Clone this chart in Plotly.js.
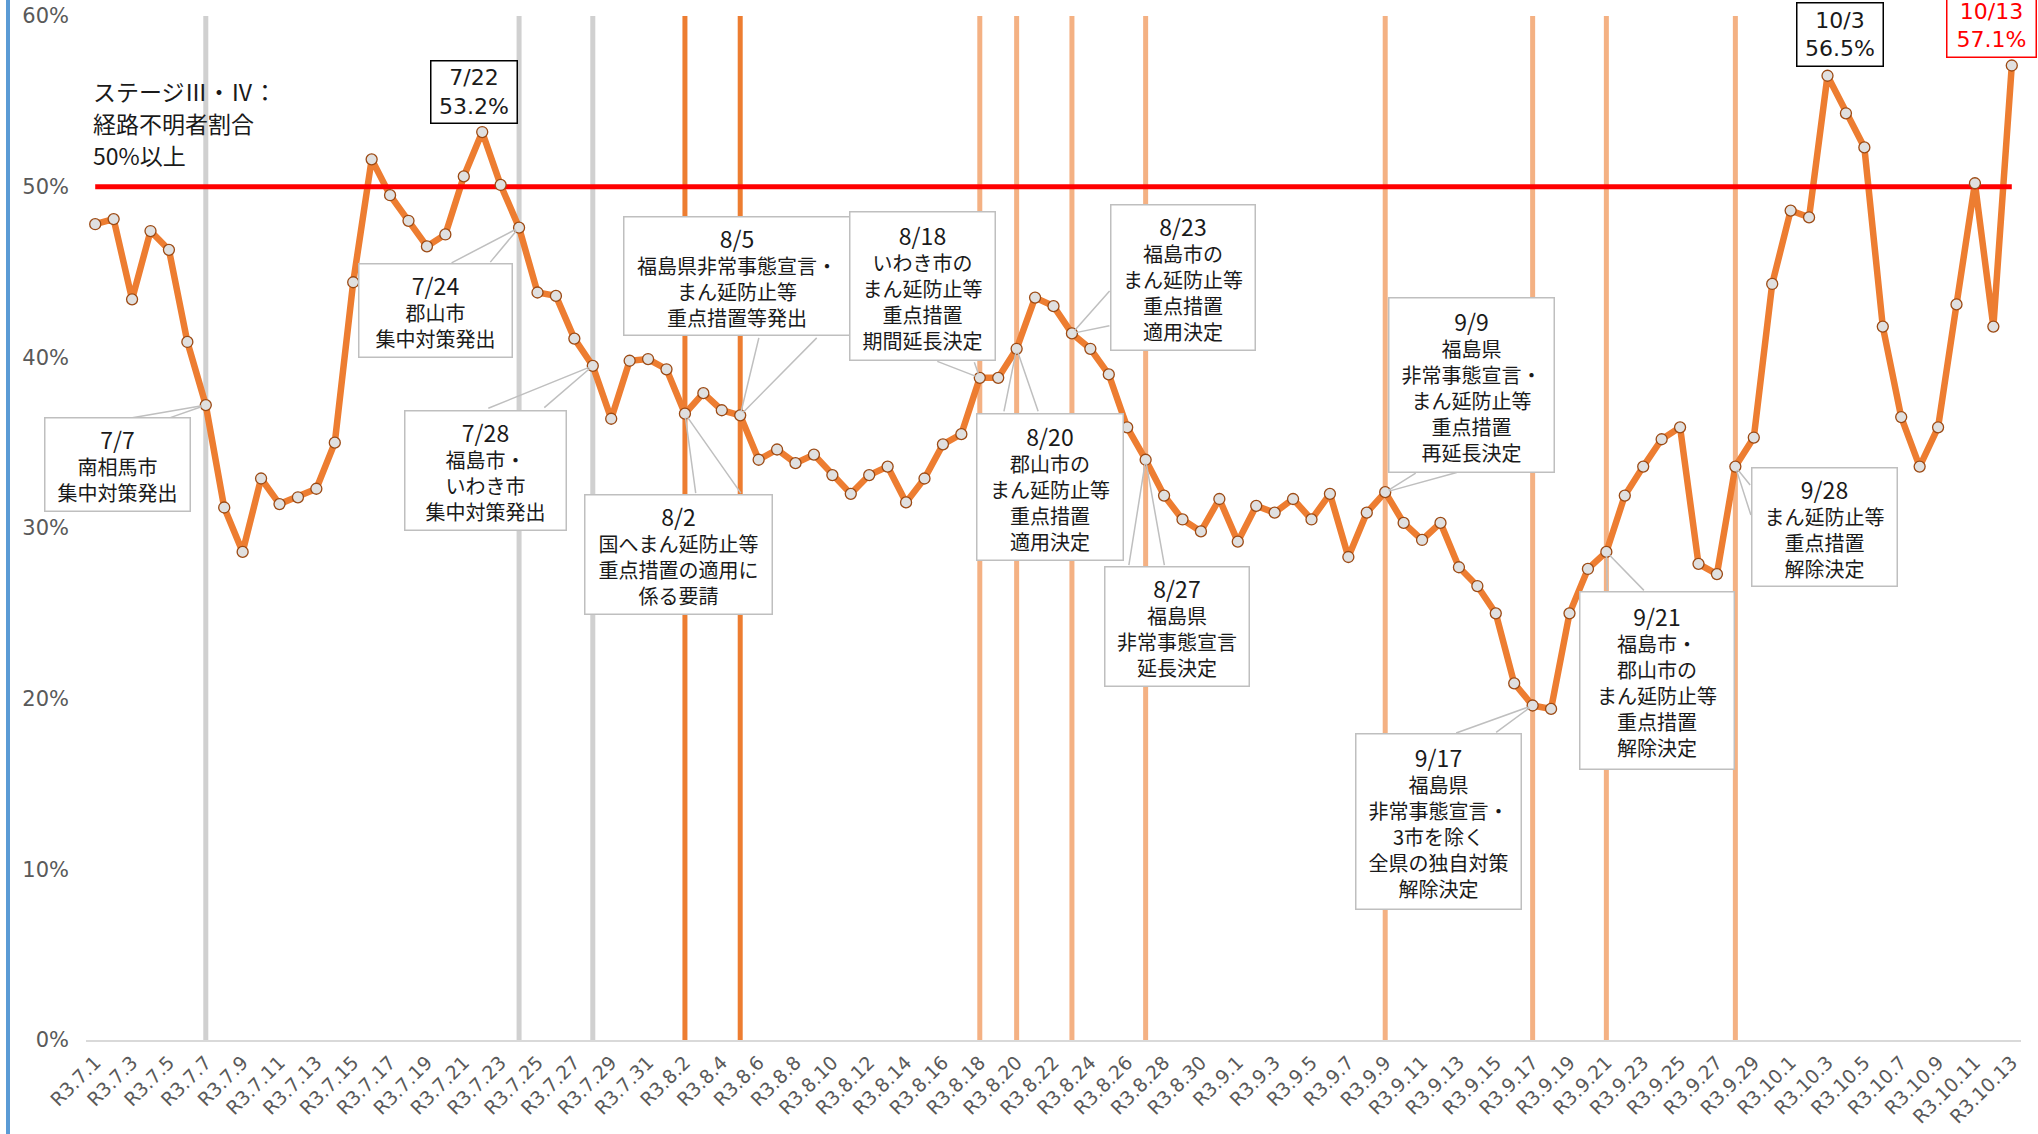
<!DOCTYPE html>
<html>
<head>
<meta charset="utf-8">
<script src="https://cdn.plot.ly/plotly-3.0.1.min.js"></script>
<style>
  html, body { margin: 0; padding: 0; background: #ffffff; }
  #wrap { position: relative; width: 2038px; height: 1134px; }
  #chart { width: 2038px; height: 1134px; }
  #leftbar { position: absolute; left: 6px; top: 0; width: 4px; height: 1134px; background: #5B9BD5; }
</style>
</head>
<body>
<div id="wrap"><div id="chart"></div><div id="leftbar"></div></div>
<script>
// ---------- data ----------
const categories = [
  'R3.7.1','R3.7.2','R3.7.3','R3.7.4','R3.7.5','R3.7.6','R3.7.7','R3.7.8','R3.7.9','R3.7.10',
  'R3.7.11','R3.7.12','R3.7.13','R3.7.14','R3.7.15','R3.7.16','R3.7.17','R3.7.18','R3.7.19','R3.7.20',
  'R3.7.21','R3.7.22','R3.7.23','R3.7.24','R3.7.25','R3.7.26','R3.7.27','R3.7.28','R3.7.29','R3.7.30','R3.7.31',
  'R3.8.1','R3.8.2','R3.8.3','R3.8.4','R3.8.5','R3.8.6','R3.8.7','R3.8.8','R3.8.9','R3.8.10',
  'R3.8.11','R3.8.12','R3.8.13','R3.8.14','R3.8.15','R3.8.16','R3.8.17','R3.8.18','R3.8.19','R3.8.20',
  'R3.8.21','R3.8.22','R3.8.23','R3.8.24','R3.8.25','R3.8.26','R3.8.27','R3.8.28','R3.8.29','R3.8.30','R3.8.31',
  'R3.9.1','R3.9.2','R3.9.3','R3.9.4','R3.9.5','R3.9.6','R3.9.7','R3.9.8','R3.9.9','R3.9.10',
  'R3.9.11','R3.9.12','R3.9.13','R3.9.14','R3.9.15','R3.9.16','R3.9.17','R3.9.18','R3.9.19','R3.9.20',
  'R3.9.21','R3.9.22','R3.9.23','R3.9.24','R3.9.25','R3.9.26','R3.9.27','R3.9.28','R3.9.29','R3.9.30',
  'R3.10.1','R3.10.2','R3.10.3','R3.10.4','R3.10.5','R3.10.6','R3.10.7','R3.10.8','R3.10.9','R3.10.10',
  'R3.10.11','R3.10.12','R3.10.13'
];

const unknownRouteRatio = [
  // July
  47.8, 48.1, 43.4, 47.4, 46.3, 40.9, 37.2, 31.2, 28.6, 32.9,
  31.4, 31.8, 32.3, 35.0, 44.4, 51.6, 49.5, 48.0, 46.5, 47.2,
  50.6, 53.2, 50.1, 47.6, 43.8, 43.6, 41.1, 39.5, 36.4, 39.8, 39.9,
  // August
  39.3, 36.7, 37.9, 36.9, 36.6, 34.0, 34.6, 33.8, 34.3, 33.1,
  32.0, 33.1, 33.6, 31.5, 32.9, 34.9, 35.5, 38.8, 38.8, 40.5,
  43.5, 43.0, 41.4, 40.5, 39.0, 35.9, 34.0, 31.9, 30.5, 29.8, 31.7,
  // September
  29.2, 31.3, 30.9, 31.7, 30.5, 32.0, 28.3, 30.9, 32.1, 30.3,
  29.3, 30.3, 27.7, 26.6, 25.0, 20.9, 19.6, 19.4, 25.0, 27.6,
  28.6, 31.9, 33.6, 35.2, 35.9, 27.9, 27.3, 33.6, 35.3, 44.3,
  // October
  48.6, 48.2, 56.5, 54.3, 52.3, 41.8, 36.5, 33.6, 35.9, 43.1,
  50.2, 41.8, 57.1
];

const thresholdValue = 50;
const thresholdLabelLines = ['ステージⅢ・Ⅳ：', '経路不明者割合', '50%以上'];

const grayEventDates  = ['R3.7.7', 'R3.7.24', 'R3.7.28'];
const darkEventDates  = ['R3.8.2', 'R3.8.5'];
const lightEventDates = ['R3.8.18', 'R3.8.20', 'R3.8.23', 'R3.8.27', 'R3.9.9', 'R3.9.17', 'R3.9.21', 'R3.9.28'];

const yTickValues = [0, 10, 20, 30, 40, 50, 60];
const yTickLabels = ['0%', '10%', '20%', '30%', '40%', '50%', '60%'];

const eventNoteDates = ['R3.7.7', 'R3.7.24', 'R3.7.28', 'R3.8.2', 'R3.8.5', 'R3.8.18', 'R3.8.20',
                        'R3.8.23', 'R3.8.27', 'R3.9.9', 'R3.9.17', 'R3.9.21', 'R3.9.28'];
const eventNoteHeads = ['7/7', '7/24', '7/28', '8/2', '8/5', '8/18', '8/20',
                        '8/23', '8/27', '9/9', '9/17', '9/21', '9/28'];
const eventNoteBodies = [
  '南相馬市<br>集中対策発出',
  '郡山市<br>集中対策発出',
  '福島市・<br>いわき市<br>集中対策発出',
  '国へまん延防止等<br>重点措置の適用に<br>係る要請',
  '福島県非常事態宣言・<br>まん延防止等<br>重点措置等発出',
  'いわき市の<br>まん延防止等<br>重点措置<br>期間延長決定',
  '郡山市の<br>まん延防止等<br>重点措置<br>適用決定',
  '福島市の<br>まん延防止等<br>重点措置<br>適用決定',
  '福島県<br>非常事態宣言<br>延長決定',
  '福島県<br>非常事態宣言・<br>まん延防止等<br>重点措置<br>再延長決定',
  '福島県<br>非常事態宣言・<br>3市を除く<br>全県の独自対策<br>解除決定',
  '福島市・<br>郡山市の<br>まん延防止等<br>重点措置<br>解除決定',
  'まん延防止等<br>重点措置<br>解除決定'
];

const peakDates  = ['R3.7.22', 'R3.10.3', 'R3.10.13'];
const peakHeads  = ['7/22', '10/3', '10/13'];

// ---------- layout helpers (positions / sizes / styles) ----------
// box centre offset (ax, ay) from the point, box size, and the two wedge base offsets
const calloutPlacement = [
  {ax: -88,  ay: 59,   w: 146, h: 94,  wedge: [[-75, 13], [-37, 13]]},
  {ax: -84,  ay: 83,   w: 154, h: 94,  wedge: [[-69, 36], [-30, 36]]},
  {ax: -107, ay: 105,  w: 162, h: 120, wedge: [[-106, 43], [-50, 43]]},
  {ax: -6,   ay: 141,  w: 188, h: 120, wedge: [[11, 81], [57, 81]]},
  {ax: -3,   ay: -139, w: 227, h: 119, wedge: [[19, -79], [78, -79]]},
  {ax: -57,  ay: -92,  w: 146, h: 149, wedge: [[-44, -17], [-6, -17]]},
  {ax: 33,   ay: 138,  w: 147, h: 147, wedge: [[-13, 64], [22, 64]]},
  {ax: 111,  ay: -56,  w: 145, h: 146, wedge: [[39, -44], [39, -8]]},
  {ax: 31,   ay: 167,  w: 145, h: 120, wedge: [[-17, 107], [19, 107]]},
  {ax: 86,   ay: -107, w: 166, h: 175, wedge: [[32, -20], [73, -20]]},
  {ax: -94,  ay: 116,  w: 166, h: 176, wedge: [[-78, 28], [-38, 28]]},
  {ax: 51,   ay: 129,  w: 155, h: 178, wedge: [[1, 40], [39, 40]]},
  {ax: 89,   ay: 60,   w: 146, h: 119, wedge: [[16, 20], [16, 50]]}
];
const peakPlacement = [
  {xs: -8,  ys: 40, w: 87, h: 63, color: '#1a1a1a', border: '#000000'},
  {xs: 12,  ys: 41, w: 87, h: 64, color: '#1a1a1a', border: '#000000'},
  {xs: -20, ys: 40, w: 90, h: 64, color: '#FF0000', border: '#FF0000'}
];
const thresholdLabelPaperY = [0.9268, 0.8955, 0.8643];

const JP = '"Noto Sans CJK JP", "Noto Sans", sans-serif';
const NUM = '"DejaVu Sans", "Noto Sans", sans-serif';

function valueAt(date) { return unknownRouteRatio[categories.indexOf(date)]; }
function percentText(v) { return v.toFixed(1) + '%'; }
function verticalSegments(dates) {
  const x = [], y = [];
  dates.forEach(d => { x.push(d, d, null); y.push(yTickValues[0], yTickValues[yTickValues.length - 1], null); });
  return {x, y};
}

// ---------- traces ----------
const traces = [];
[[grayEventDates, '#D0D0D0', 5], [darkEventDates, '#ED7D31', 5], [lightEventDates, '#F4B183', 5]].forEach(([dates, color, w]) => {
  const seg = verticalSegments(dates);
  traces.push({x: seg.x, y: seg.y, type: 'scatter', mode: 'lines', connectgaps: false,
    line: {color, width: w}, hoverinfo: 'skip', showlegend: false});
});
traces.push({x: categories, y: unknownRouteRatio, type: 'scatter', mode: 'lines',
  line: {color: '#ED7D31', width: 6.5}, hoverinfo: 'skip', showlegend: false});
traces.push({x: categories, y: categories.map(() => thresholdValue), type: 'scatter', mode: 'lines',
  line: {color: '#FF0000', width: 5}, hoverinfo: 'skip', showlegend: false});
traces.push({x: categories, y: unknownRouteRatio, type: 'scatter', mode: 'markers',
  marker: {size: 11, color: '#E0E0E0', line: {color: '#9C4A14', width: 1.3}},
  hoverinfo: 'skip', showlegend: false, cliponaxis: false});

// ---------- annotations ----------
const annotations = [];
thresholdLabelLines.forEach((line, k) => {
  annotations.push({
    x: categories[0], y: thresholdLabelPaperY[k], xref: 'x', yref: 'paper',
    xanchor: 'left', yanchor: 'middle', xshift: -4,
    text: line, showarrow: false, align: 'left',
    font: {family: JP, size: 23, color: '#1a1a1a'}
  });
});
eventNoteDates.forEach((d, k) => {
  const p = calloutPlacement[k];
  // wedge pointer: two thin lines from the box edge to the point
  p.wedge.forEach(([dx, dy]) => {
    annotations.push({
      x: d, y: valueAt(d), xref: 'x', yref: 'y', text: '',
      showarrow: true, arrowhead: 0, arrowwidth: 1.5, arrowcolor: '#BFBFBF', standoff: 4,
      ax: dx, ay: dy
    });
  });
  annotations.push({
    x: d, y: valueAt(d), xref: 'x', yref: 'y',
    xshift: p.ax, yshift: -p.ay,
    text: '<span style="font-size:23px">' + eventNoteHeads[k] + '</span><br>' + eventNoteBodies[k],
    showarrow: false, width: p.w - 6, height: p.h - 6, align: 'center', valign: 'middle',
    xanchor: 'center', yanchor: 'middle',
    bgcolor: '#FFFFFF', bordercolor: '#BFBFBF', borderwidth: 1.5, borderpad: 2,
    font: {family: JP, size: 20, color: '#1a1a1a'}
  });
});
peakDates.forEach((d, k) => {
  const p = peakPlacement[k];
  annotations.push({
    x: d, y: valueAt(d), xref: 'x', yref: 'y', xanchor: 'center', yanchor: 'middle',
    xshift: p.xs, yshift: p.ys,
    text: peakHeads[k] + '<br>' + percentText(valueAt(d)),
    showarrow: false, width: p.w - 6, height: p.h - 6, align: 'center', valign: 'middle',
    bgcolor: '#FFFFFF', bordercolor: p.border, borderwidth: 1.5, borderpad: 2,
    font: {family: NUM, size: 22, color: p.color}
  });
});

// ---------- layout ----------
const layout = {
  width: 2038, height: 1134,
  margin: {l: 86, r: 17, t: 16, b: 94},
  paper_bgcolor: '#FFFFFF', plot_bgcolor: '#FFFFFF',
  showlegend: false,
  xaxis: {
    type: 'category', categoryorder: 'array', categoryarray: categories,
    range: [-0.5, categories.length - 0.5],
    tickmode: 'linear', tick0: 0, dtick: 2, tickangle: -45,
    tickfont: {family: NUM, size: 19, color: '#595959'},
    showgrid: false, zeroline: false,
    showline: true, linecolor: '#D9D9D9', linewidth: 2,
    ticks: '', ticklabelstandoff: 2, fixedrange: true
  },
  yaxis: {
    range: [0, 60], tickmode: 'array', tickvals: yTickValues, ticktext: yTickLabels,
    tickfont: {family: NUM, size: 21, color: '#595959'},
    showgrid: false, zeroline: false, showline: false, ticks: '',
    ticklabelstandoff: 16, fixedrange: true
  },
  annotations: annotations
};

Plotly.newPlot('chart', traces, layout, {staticPlot: true, displayModeBar: false});
</script>
</body>
</html>
